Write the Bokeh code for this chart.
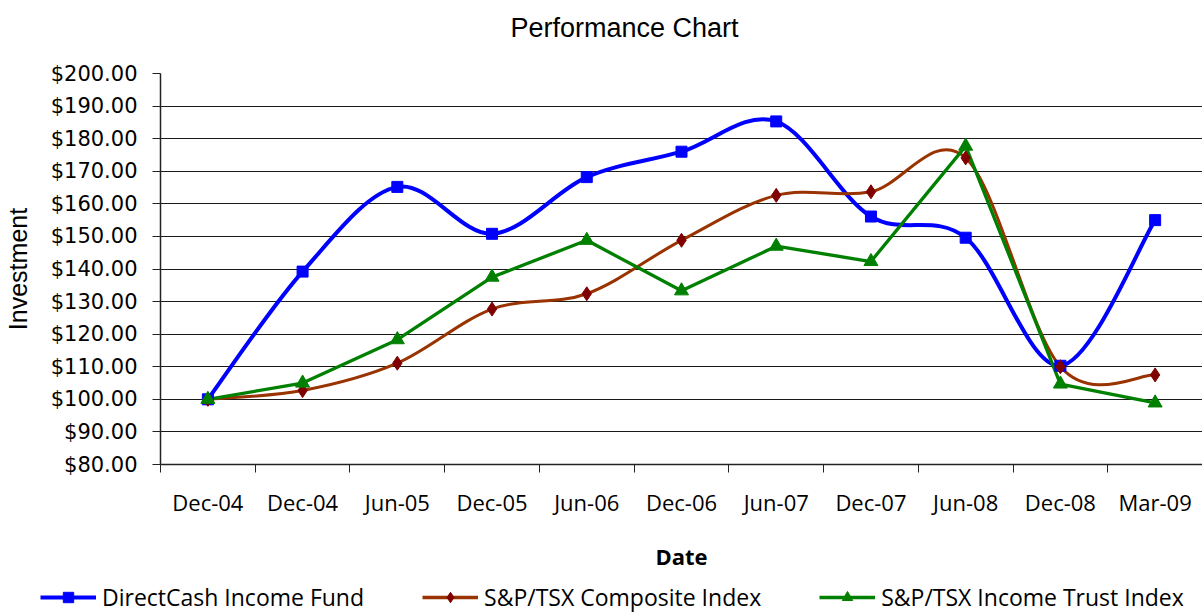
from bokeh.plotting import figure
from bokeh.models import ColumnDataSource, FixedTicker, Range1d, Legend, LegendItem, Label
from bokeh.layouts import column
from bokeh.embed import file_html
from bokeh.resources import INLINE

# ---------------- data ----------------
title_text = "Performance Chart"
categories = ["Dec-04", "Dec-04", "Jun-05", "Dec-05", "Jun-06", "Dec-06",
              "Jun-07", "Dec-07", "Jun-08", "Dec-08", "Mar-09"]
directcash = [100.0, 139.2, 165.2, 150.8, 168.2, 176.0, 185.3, 156.1, 149.6, 110.3, 155.0]
composite = [100.0, 102.7, 111.1, 127.7, 132.4, 148.8, 162.6, 163.7, 174.1, 110.0, 107.5]
income_trust = [100.0, 105.0, 118.3, 137.5, 148.8, 133.3, 147.0, 142.3, 177.7, 104.7, 98.9]
series_names = ["DirectCash Income Fund", "S&P/TSX Composite Index", "S&P/TSX Income Trust Index"]
y_ticks = [80, 90, 100, 110, 120, 130, 140, 150, 160, 170, 180, 190, 200]
y_tick_labels = ["$80.00", "$90.00", "$100.00", "$110.00", "$120.00", "$130.00", "$140.00",
                 "$150.00", "$160.00", "$170.00", "$180.00", "$190.00", "$200.00"]

xs = list(range(len(categories)))

BLUE, BROWN, DKRED, GREEN = "#0000FF", "#993300", "#800000", "#008000"


def smooth_source(xv, yv):
    """Catmull-Rom style Bezier segments (like a spreadsheet 'smoothed line')."""
    n = len(xv)
    d = dict(x0=[], y0=[], x1=[], y1=[], cx0=[], cy0=[], cx1=[], cy1=[])
    for i in range(n - 1):
        a = max(i - 1, 0)
        b = min(i + 2, n - 1)
        d["x0"].append(xv[i]); d["y0"].append(yv[i])
        d["x1"].append(xv[i + 1]); d["y1"].append(yv[i + 1])
        d["cx0"].append(xv[i] + (xv[i + 1] - xv[a]) / 6.0)
        d["cy0"].append(yv[i] + (yv[i + 1] - yv[a]) / 6.0)
        d["cx1"].append(xv[i + 1] - (xv[b] - xv[i]) / 6.0)
        d["cy1"].append(yv[i + 1] - (yv[b] - yv[i]) / 6.0)
    return ColumnDataSource(d)


def strip(height):
    f = figure(width=1202, height=height, output_backend="svg", toolbar_location=None,
               x_range=Range1d(100, 101), y_range=Range1d(100, 101),
               x_axis_location=None, y_axis_location=None,
               min_border=0, min_border_left=0, min_border_right=0,
               min_border_top=0, min_border_bottom=0)
    f.frame_align = False
    f.outline_line_color = None
    f.grid.visible = False
    f.title.text = ""
    return f


# ---------------- title strip ----------------
pt = strip(45)
pt.add_layout(Label(x=624, y=18, x_units="screen", y_units="screen", text=title_text,
                    text_font="Liberation Sans", text_font_size="27px", text_color="black",
                    text_align="center", text_baseline="middle"))

# ---------------- main chart ----------------
p = figure(width=1202, height=535, output_backend="svg", toolbar_location=None,
           x_range=Range1d(-0.5, 10.5), y_range=Range1d(80, 200),
           min_border_left=160, min_border_right=0, min_border_top=28, min_border_bottom=116)
p.frame_align = False
p.outline_line_color = None
p.background_fill_color = "white"
p.border_fill_color = "white"
p.title.text = ""

# grid
p.xgrid.visible = False
p.ygrid.ticker = FixedTicker(ticks=y_ticks)
p.ygrid.grid_line_color = "#1a1a1a"
p.ygrid.grid_line_width = 1

# y axis
p.yaxis.ticker = FixedTicker(ticks=y_ticks)
p.yaxis.major_label_overrides = {t: l for t, l in zip(y_ticks, y_tick_labels)}
p.yaxis.major_label_text_font = "DejaVu Sans"
p.yaxis.major_label_text_font_size = "21px"
p.yaxis.major_label_text_color = "black"
p.yaxis.major_tick_out = 8
p.yaxis.major_tick_in = 0
p.yaxis.minor_tick_line_color = None
p.yaxis.major_label_standoff = 15
p.yaxis.axis_line_color = "#222222"
p.yaxis.axis_line_width = 1.5
p.yaxis.major_tick_line_color = "#222222"
p.yaxis.axis_label = "Investment"
p.yaxis.axis_label_text_font = "Liberation Sans"
p.yaxis.axis_label_text_font_size = "25px"
p.yaxis.axis_label_text_font_style = "normal"
p.yaxis.axis_label_text_color = "black"
p.yaxis.axis_label_standoff = 16

# x axis
boundaries = [i - 0.5 for i in range(len(categories) + 1)]
p.xaxis.ticker = FixedTicker(ticks=xs, minor_ticks=boundaries)
p.xaxis.major_label_overrides = {i: c for i, c in zip(xs, categories)}
p.xaxis.major_label_text_font = "Open Sans"
p.xaxis.major_label_text_font_size = "22px"
p.xaxis.major_label_text_color = "black"
p.xaxis.major_tick_line_color = None
p.xaxis.major_tick_out = 0
p.xaxis.major_tick_in = 0
p.xaxis.minor_tick_line_color = "#222222"
p.xaxis.minor_tick_out = 8
p.xaxis.minor_tick_in = 0
p.xaxis.major_label_standoff = 14
p.xaxis.axis_line_color = "#222222"
p.xaxis.axis_line_width = 1.5
p.xaxis.axis_label = "Date"
p.xaxis.axis_label_text_font = "Open Sans"
p.xaxis.axis_label_text_font_size = "22px"
p.xaxis.axis_label_text_font_style = "bold"
p.xaxis.axis_label_text_color = "black"
p.xaxis.axis_label_standoff = 21

# series
blue_src = smooth_source(xs, directcash)
brown_src = smooth_source(xs, composite)

p.bezier(x0="x0", y0="y0", x1="x1", y1="y1", cx0="cx0", cy0="cy0",
         cx1="cx1", cy1="cy1", source=blue_src,
         line_color=BLUE, line_width=4, line_cap="round")
p.bezier(x0="x0", y0="y0", x1="x1", y1="y1", cx0="cx0", cy0="cy0",
         cx1="cx1", cy1="cy1", source=brown_src,
         line_color=BROWN, line_width=3, line_cap="round")
p.line(xs, income_trust, line_color=GREEN, line_width=3.3, line_join="round")

p.scatter(xs, directcash, marker="square", size=11, fill_color=BLUE, line_color=BLUE)
p.scatter(xs, composite, marker="diamond", size=14, fill_color=DKRED, line_color=DKRED)
p.scatter(xs, income_trust, marker="triangle", size=14, fill_color=GREEN, line_color=GREEN)

# ---------------- legend strip below the chart ----------------
pl = strip(33)
lb = pl.line(xs, directcash, line_color=BLUE, line_width=4)
mb = pl.scatter(xs, directcash, marker="square", size=11, fill_color=BLUE, line_color=BLUE)
lr = pl.line(xs, composite, line_color=BROWN, line_width=3.5)
mr = pl.scatter(xs, composite, marker="diamond", size=14, fill_color=DKRED, line_color=DKRED)
lg = pl.line(xs, income_trust, line_color=GREEN, line_width=3.5)
mg = pl.scatter(xs, income_trust, marker="triangle", size=14, fill_color=GREEN, line_color=GREEN)

legend = Legend(items=[
    LegendItem(label=series_names[0], renderers=[lb, mb]),
    LegendItem(label=series_names[1], renderers=[lr, mr]),
    LegendItem(label=series_names[2], renderers=[lg, mg]),
], orientation="horizontal", location=(40, 0))
legend.border_line_color = None
legend.background_fill_alpha = 0
legend.padding = 0
legend.margin = 0
legend.spacing = 58
legend.glyph_width = 56
legend.glyph_height = 26
legend.label_height = 26
legend.label_standoff = 6
legend.label_text_font = "Open Sans"
legend.label_text_font_size = "23px"
legend.label_text_color = "black"
pl.add_layout(legend, "center")

layout = column(pt, p, pl, spacing=0)
open("out.html", "w").write(file_html(layout, INLINE))
